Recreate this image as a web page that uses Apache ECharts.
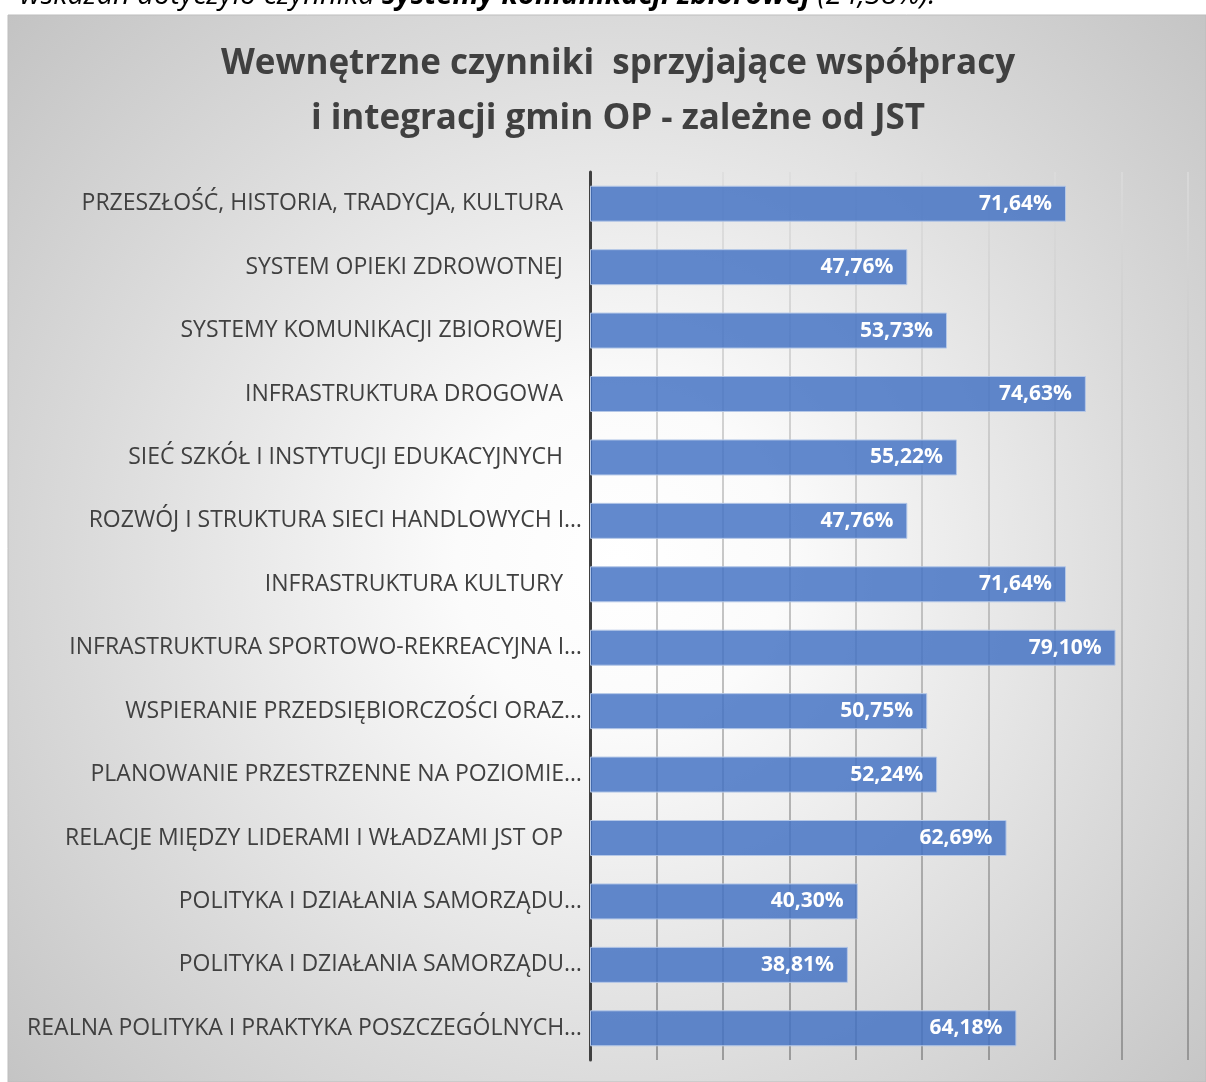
<!DOCTYPE html>
<html>
<head>
<meta charset="utf-8">
<script src="https://cdn.jsdelivr.net/npm/echarts@6/dist/echarts.min.js"></script>
<style>
html,body{margin:0;padding:0;background:#fff;}
#chart{width:1206px;height:1082px;}
</style>
</head>
<body>
<div id="chart"></div>
<script>
const categories = [
  'PRZESZŁOŚĆ, HISTORIA, TRADYCJA, KULTURA',
  'SYSTEM OPIEKI ZDROWOTNEJ',
  'SYSTEMY KOMUNIKACJI ZBIOROWEJ',
  'INFRASTRUKTURA DROGOWA',
  'SIEĆ SZKÓŁ I INSTYTUCJI EDUKACYJNYCH',
  'ROZWÓJ I STRUKTURA SIECI HANDLOWYCH I…',
  'INFRASTRUKTURA KULTURY',
  'INFRASTRUKTURA SPORTOWO-REKREACYJNA I…',
  'WSPIERANIE PRZEDSIĘBIORCZOŚCI ORAZ…',
  'PLANOWANIE PRZESTRZENNE NA POZIOMIE…',
  'RELACJE MIĘDZY LIDERAMI I WŁADZAMI JST OP',
  'POLITYKA I DZIAŁANIA SAMORZĄDU…',
  'POLITYKA I DZIAŁANIA SAMORZĄDU…',
  'REALNA POLITYKA I PRAKTYKA POSZCZEGÓLNYCH…'
];
const values = [71.64, 47.76, 53.73, 74.63, 55.22, 47.76, 71.64, 79.10, 50.75, 52.24, 62.69, 40.30, 38.81, 64.18];
const titleLines = ['Wewnętrzne czynniki  sprzyjające współpracy', 'i integracji gmin OP - zależne od JST'];
const axisMin = 0, axisMax = 90, axisStep = 10;

const chart = echarts.init(document.getElementById('chart'), null, {renderer: 'canvas'});
const option = {
  backgroundColor: '#ffffff',
  animation: false,
  graphic: [
    {
      type: 'rect', z: -10, silent: true,
      shape: {x: 8, y: 15, width: 1198, height: 1067},
      style: {
        fill: {
          type: 'radial', x: 620, y: 560, r: 820, global: true,
          colorStops: [
            {offset: 0, color: '#ffffff'},
            {offset: 0.2, color: '#fbfbfb'},
            {offset: 0.66, color: '#dadada'},
            {offset: 1, color: '#c3c3c3'}
          ]
        },
        stroke: '#bdbdbd', lineWidth: 1
      }
    },
    {
      type: 'text', z: 5, silent: true,
      style: {
        x: 20, y: 10,
        verticalAlign: 'bottom',
        text: '{n|wskazań dotyczyło czynnika }{b|systemy komunikacji zbiorowej}{n| (24,38%).}',
        rich: {
          n: {fontFamily: 'Open Sans', fontSize: 29, fill: '#000', fontStyle: 'italic'},
          b: {fontFamily: 'Open Sans', fontSize: 29, fontWeight: 'bold', fill: '#000', fontStyle: 'italic'}
        }
      }
    }
  ],
  title: {
    text: titleLines.join('\n'),
    left: 613, top: 32,
    textAlign: 'center',
    textStyle: {
      fontFamily: 'Open Sans', fontWeight: 'bold', fontSize: 35,
      color: '#404040', lineHeight: 55
    }
  },
  grid: {left: 590, right: 18, top: 172, bottom: 22, containLabel: false},
  xAxis: {
    type: 'value', min: axisMin, max: axisMax, interval: axisStep,
    axisLabel: {show: false}, axisLine: {show: false}, axisTick: {show: false},
    splitLine: {
      show: true,
      lineStyle: {
        width: 1.5,
        color: {
          type: 'linear', x: 0, y: 172, x2: 0, y2: 1060, global: true,
          colorStops: [{offset: 0, color: '#dcdcdc'}, {offset: 1, color: '#858585'}]
        }
      }
    }
  },
  yAxis: {
    type: 'category', data: categories, inverse: true,
    axisLine: {show: true, lineStyle: {color: '#404040', width: 3}},
    axisTick: {show: false},
    axisLabel: {
      margin: 8,
      color: '#404040', fontFamily: 'Open Sans', fontSize: 23,
      formatter: function (v) {
        return v.endsWith('…') ? '{t|' + v + '}' : '{p|' + v + '}';
      },
      rich: {
        t: {color: '#404040', fontFamily: 'Open Sans', fontSize: 23},
        p: {color: '#404040', fontFamily: 'Open Sans', fontSize: 23, padding: [0, 19, 0, 0]}
      }
    }
  },
  series: [{
    type: 'bar', data: values, barWidth: 36,
    itemStyle: {color: 'rgba(68,114,196,0.84)', borderColor: '#b4c7e7', borderWidth: 1},
    label: {
      show: true, position: 'insideRight', distance: 14,
      color: '#ffffff', fontFamily: 'Open Sans', fontWeight: 'bold', fontSize: 21,
      formatter: function (p) { return p.value.toFixed(2).replace('.', ',') + '%'; }
    }
  }]
};
chart.setOption(option);
</script>
</body>
</html>
